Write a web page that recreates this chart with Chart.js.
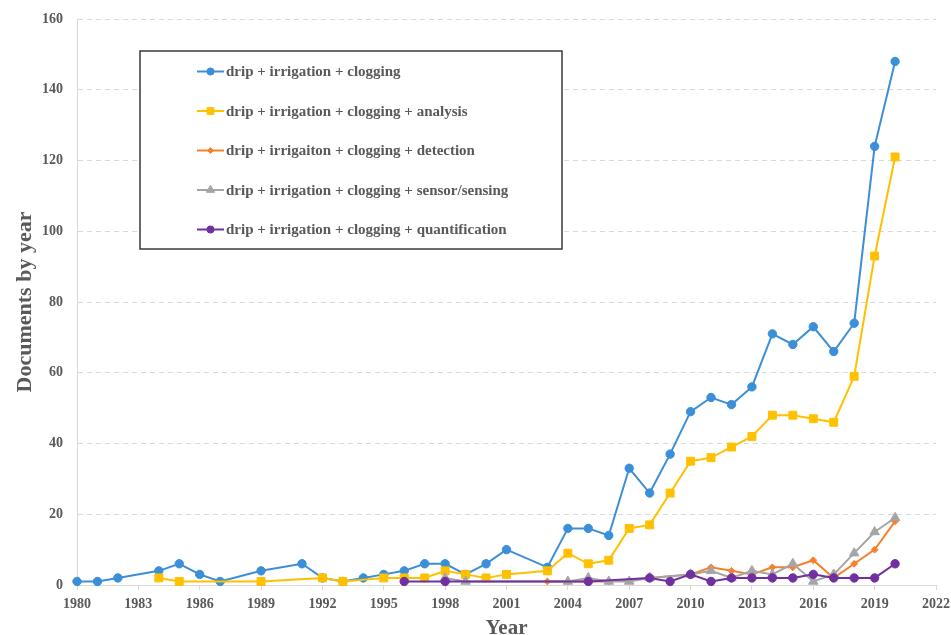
<!DOCTYPE html>
<html>
<head>
<meta charset="utf-8">
<script src="https://cdn.jsdelivr.net/npm/chart.js@4.4.0/dist/chart.umd.min.js"></script>
<style>
  html, body { margin: 0; padding: 0; background: #fff; }
</style>
</head>
<body>
<canvas id="myChart" width="951" height="635"></canvas>
<script>
let seriesNames = [
    'drip + irrigation + clogging',
    'drip + irrigation + clogging + analysis',
    'drip + irrigaiton + clogging + detection',
    'drip + irrigation + clogging + sensor/sensing',
    'drip + irrigation + clogging + quantification'
];
let colorHex = ['#3b8ed8', '#ffc000', '#f7802c', '#a5a5a5', '#7030a0'];
let pointStyles = ['circle', 'rect', 'rectRot', 'triangle', 'circle'];
let pointSizes = [4.2, 5.6, 3.4, 5.5, 4.2];

let cloggingYears = [1980, 1981, 1982, 1984, 1985, 1986, 1987, 1989, 1991, 1992, 1993, 1994, 1995, 1996, 1997, 1998, 1999, 2000, 2001, 2003, 2004, 2005, 2006, 2007, 2008, 2009, 2010, 2011, 2012, 2013, 2014, 2015, 2016, 2017, 2018, 2019, 2020];
let cloggingDocs = [1, 1, 2, 4, 6, 3, 1, 4, 6, 2, 1, 2, 3, 4, 6, 6, 3, 6, 10, 5, 16, 16, 14, 33, 26, 37, 49, 53, 51, 56, 71, 68, 73, 66, 74, 124, 148];

let analysisYears = [1984, 1985, 1989, 1992, 1993, 1995, 1996, 1997, 1998, 1999, 2000, 2001, 2003, 2004, 2005, 2006, 2007, 2008, 2009, 2010, 2011, 2012, 2013, 2014, 2015, 2016, 2017, 2018, 2019, 2020];
let analysisDocs = [2, 1, 1, 2, 1, 2, 2, 2, 4, 3, 2, 3, 4, 9, 6, 7, 16, 17, 26, 35, 36, 39, 42, 48, 48, 47, 46, 59, 93, 121];

let detectionYears = [2003, 2004, 2006, 2010, 2011, 2012, 2013, 2014, 2015, 2016, 2017, 2018, 2019, 2020];
let detectionDocs = [1, 1, 1, 3, 5, 4, 3, 5, 5, 7, 2, 6, 10, 18];

let sensingYears = [1998, 1999, 2004, 2005, 2006, 2007, 2008, 2010, 2011, 2012, 2013, 2014, 2015, 2016, 2017, 2018, 2019, 2020];
let sensingDocs = [2, 1, 1, 2, 1, 1, 2, 3, 4, 2, 4, 3, 6, 1, 3, 9, 15, 19];

let quantYears = [1996, 1998, 2005, 2008, 2009, 2010, 2011, 2012, 2013, 2014, 2015, 2016, 2017, 2018, 2019, 2020];
let quantDocs = [1, 1, 1, 2, 1, 3, 1, 2, 2, 2, 2, 3, 2, 2, 2, 6];

let allYears = [cloggingYears, analysisYears, detectionYears, sensingYears, quantYears];
let allDocs = [cloggingDocs, analysisDocs, detectionDocs, sensingDocs, quantDocs];

Chart.defaults.font.family = "'Liberation Serif', 'Times New Roman', serif";
Chart.defaults.font.weight = 'bold';
Chart.defaults.color = '#595959';

// legend drawn as a framed box inside the plot, like the original
const boxLegend = {
    id: 'boxLegend',
    afterDatasetsDraw(chart) {
        let ctx = chart.ctx;
        ctx.save();
        ctx.fillStyle = '#fff';
        ctx.fillRect(140, 51, 422, 198);
        ctx.strokeStyle = '#3a3a3a';
        ctx.lineWidth = 1.5;
        ctx.strokeRect(140, 51, 422, 198);
        ctx.font = "bold 15px 'Liberation Serif', 'Times New Roman', serif";
        ctx.textBaseline = 'middle';
        chart.data.datasets.forEach((ds, i) => {
            let y = 71.5 + i * 39.5;
            ctx.strokeStyle = ds.borderColor;
            ctx.fillStyle = ds.backgroundColor;
            ctx.lineWidth = 2;
            ctx.beginPath();
            ctx.moveTo(197, y);
            ctx.lineTo(224, y);
            ctx.stroke();
            ctx.lineWidth = 1;
            Chart.helpers.drawPoint(ctx, {
                pointStyle: ds.pointStyle,
                radius: ds.pointRadius * 0.85,
                rotation: 0,
                borderWidth: 1
            }, 210.5, y);
            ctx.fillStyle = '#595959';
            ctx.fillText(seriesNames[i], 226, y + 1);
        });
        ctx.restore();
    }
};

let ctx = document.getElementById('myChart').getContext('2d');

let myChart = new Chart(ctx, {
    type: 'line',
    data: {
        datasets: seriesNames.map((name, i) => ({
            label: name,
            data: allYears[i].map((yr, j) => ({ x: yr, y: allDocs[i][j] })),
            borderColor: colorHex[i],
            backgroundColor: colorHex[i],
            borderWidth: 2,
            pointStyle: pointStyles[i],
            pointRadius: pointSizes[i],
            pointBorderWidth: 1,
            tension: 0,
            clip: false,
            order: 5 - i
        }))
    },
    options: {
        responsive: false,
        animation: false,
        events: [],
        layout: {
            padding: { top: 19, right: 15, left: 0, bottom: 0 }
        },
        plugins: {
            legend: { display: false },
            tooltip: { enabled: false }
        },
        scales: {
            x: {
                type: 'linear',
                min: 1980,
                max: 2022,
                ticks: {
                    stepSize: 3,
                    autoSkip: false,
                    maxRotation: 0,
                    padding: 6,
                    font: { size: 14 },
                    callback: (value) => String(value)
                },
                grid: {
                    drawOnChartArea: false,
                    drawTicks: true,
                    tickLength: 5,
                    color: '#d9d9d9',
                    tickColor: '#d9d9d9'
                },
                border: { display: true, color: '#d9d9d9', width: 1 },
                title: {
                    display: true,
                    text: 'Year',
                    font: { size: 21 },
                    padding: { top: 0, bottom: -6 }
                },
                afterFit: (scale) => {
                    scale.height = 50;
                    scale.paddingLeft = 0;
                    scale.paddingRight = 0;
                }
            },
            y: {
                min: 0,
                max: 160,
                ticks: {
                    stepSize: 20,
                    padding: 14,
                    font: { size: 14 }
                },
                grid: {
                    color: '#d9d9d9',
                    drawTicks: false
                },
                border: { display: true, color: '#d9d9d9', dash: [5, 4] },
                title: {
                    display: true,
                    text: 'Documents by year',
                    font: { size: 22 },
                    padding: { top: 12, bottom: 0 }
                },
                afterFit: (scale) => {
                    scale.width = 77;
                    scale.paddingTop = 0;
                    scale.paddingBottom = 0;
                }
            }
        }
    },
    plugins: [boxLegend]
});
</script>
</body>
</html>
